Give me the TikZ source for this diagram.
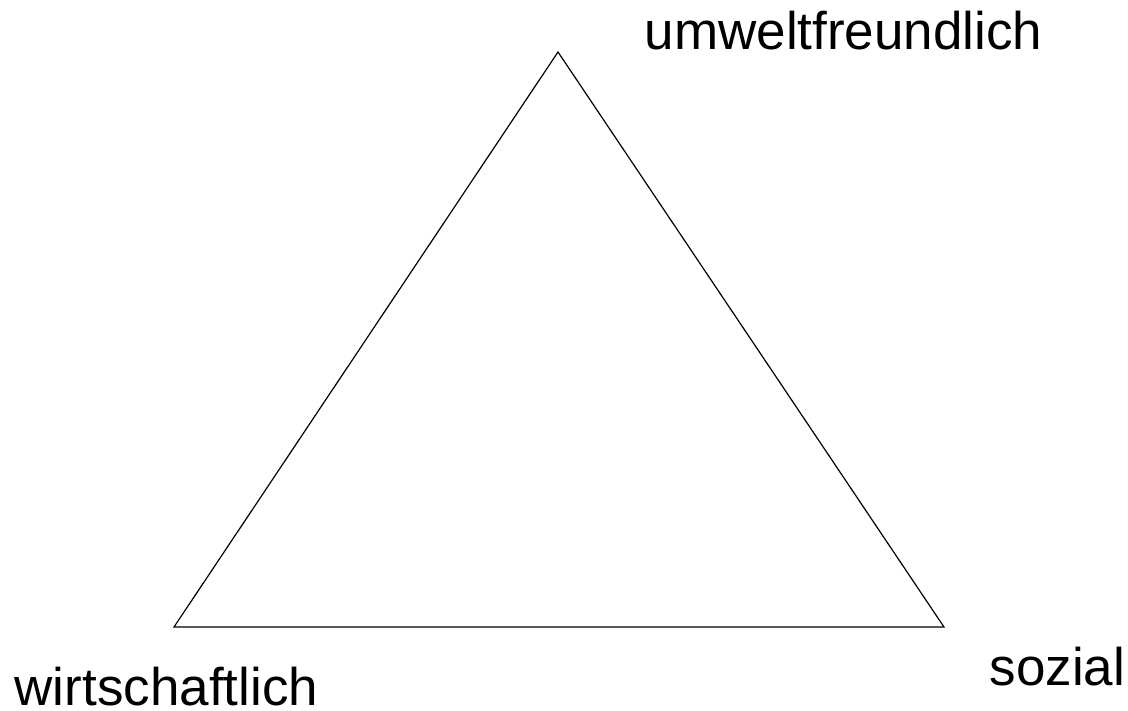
\documentclass[tikz,border=0pt]{standalone}
\usepackage{fontspec}
\setmainfont{Liberation Sans}
\begin{document}
\begin{tikzpicture}[x=1pt,y=-1pt,
  lbl/.style={anchor=base west,inner sep=0pt,text depth=0pt,font=\fontsize{53}{60}\selectfont},
  edge/.style={line width=1.2pt,line join=miter}]
\useasboundingbox[fill=white] (0,0) rectangle (1128,711);
\coordinate (top) at (558,52);
\coordinate (bl) at (174,627);
\coordinate (br) at (944,627);
\draw[edge] (top) -- (bl) -- (br) -- cycle;
\node[lbl] (u) at (644.5,50) {umweltfreundlich};
\node[lbl] (w) at (14.5,705) {wirtschaftlich};
\node[lbl] (s) at (989.5,685) {sozial};
\end{tikzpicture}
\end{document}
